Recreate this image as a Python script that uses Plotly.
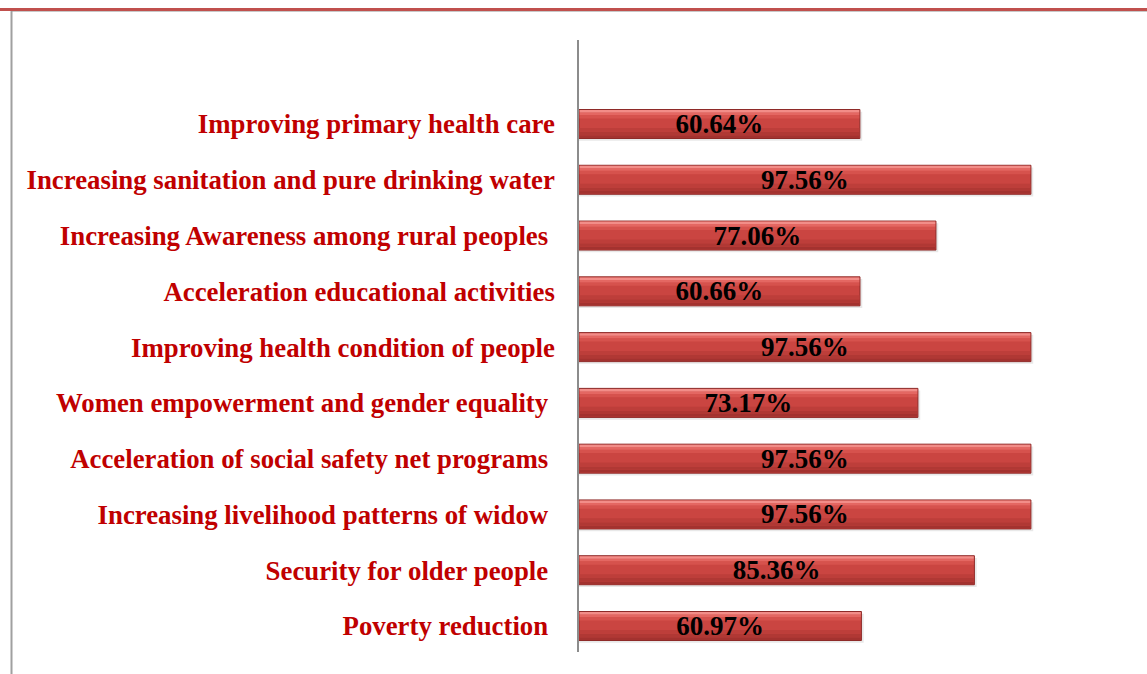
import plotly.graph_objects as go

categories = [
    "Poverty reduction\u00a0",
    "Security for older people\u00a0",
    "Increasing livelihood patterns of widow\u00a0",
    "Acceleration of social safety net programs\u00a0",
    "Women empowerment and gender equality\u00a0",
    "Improving health condition of people",
    "Acceleration educational activities",
    "Increasing Awareness among rural peoples\u00a0",
    "Increasing sanitation and pure drinking water",
    "Improving primary health care",
]
values = [60.97, 85.36, 97.56, 97.56, 73.17, 97.56, 60.66, 77.06, 97.56, 60.64]
value_labels = ["60.97%", "85.36%", "97.56%", "97.56%", "73.17%", "97.56%", "60.66%", "77.06%", "97.56%", "60.64%"]

ypos = list(range(len(categories)))
serif = "Liberation Serif, Times New Roman, serif"

fig = go.Figure()

# soft shadow
fig.add_trace(go.Bar(
    y=ypos, x=[v + 0.5 for v in values], orientation="h",
    offset=-0.30, width=0.52,
    marker=dict(color="rgba(0,0,0,0.09)", line=dict(width=0)),
    hoverinfo="skip", showlegend=False,
))
# main body
fig.add_trace(go.Bar(
    y=ypos, x=values, orientation="h",
    offset=-0.26, width=0.52,
    marker=dict(color="#CA4541", line=dict(color="#8E2A28", width=1)),
    hoverinfo="skip", showlegend=False,
))
# gradient bands (offset, width, color)
bands = [
    (-0.25, 0.05, "#A3322F"),
    (-0.20, 0.06, "#B03834"),
    (-0.14, 0.07, "#BD3E3A"),
    (0.10, 0.06, "#D6524D"),
    (0.16, 0.045, "#E46762"),
    (0.205, 0.045, "#F28D88"),
]
for off, w, col in bands:
    fig.add_trace(go.Bar(
        y=ypos, x=[v - 0.25 for v in values], base=0.12, orientation="h",
        offset=off, width=w,
        marker=dict(color=col, line=dict(width=0)),
        hoverinfo="skip", showlegend=False,
    ))
# value labels
fig.add_trace(go.Scatter(
    y=[p - 0.04 for p in ypos], x=[v / 2 for v in values], mode="text",
    text=value_labels,
    textfont=dict(family=serif, size=27, color="#000000", weight="bold"),
    textposition="middle center",
    hoverinfo="skip", showlegend=False,
))

def px_y(p):
    return (652 - p) / 612

def px_x(p):
    return (p - 579) / 554

fig.update_layout(
    width=1147, height=674,
    margin=dict(l=579, r=14, t=40, b=22),
    plot_bgcolor="white", paper_bgcolor="white",
    barmode="overlay",
    xaxis=dict(range=[0, 119.6], visible=False, fixedrange=True),
    yaxis=dict(
        range=[-0.466, 10.506],
        tickmode="array", tickvals=ypos, ticktext=categories,
        showline=True, linecolor="#8C8C8C", linewidth=1.5,
        showgrid=False, zeroline=False, ticks="", ticklabelstandoff=17,
        tickfont=dict(family=serif, size=26.8, color="#C00000", weight="bold"),
    ),
    shapes=[
        dict(type="line", xref="paper", yref="paper",
             x0=px_x(0), x1=px_x(1147), y0=px_y(9.5), y1=px_y(9.5),
             line=dict(color="#C0504D", width=3)),
        dict(type="line", xref="paper", yref="paper",
             x0=px_x(12), x1=px_x(1147), y0=px_y(11.5), y1=px_y(11.5),
             line=dict(color="#C8C8C8", width=1)),
        dict(type="line", xref="paper", yref="paper",
             x0=px_x(11.5), x1=px_x(11.5), y0=px_y(11), y1=px_y(674),
             line=dict(color="#A0A0A0", width=2)),
    ],
)

fig.write_html("out.html")
